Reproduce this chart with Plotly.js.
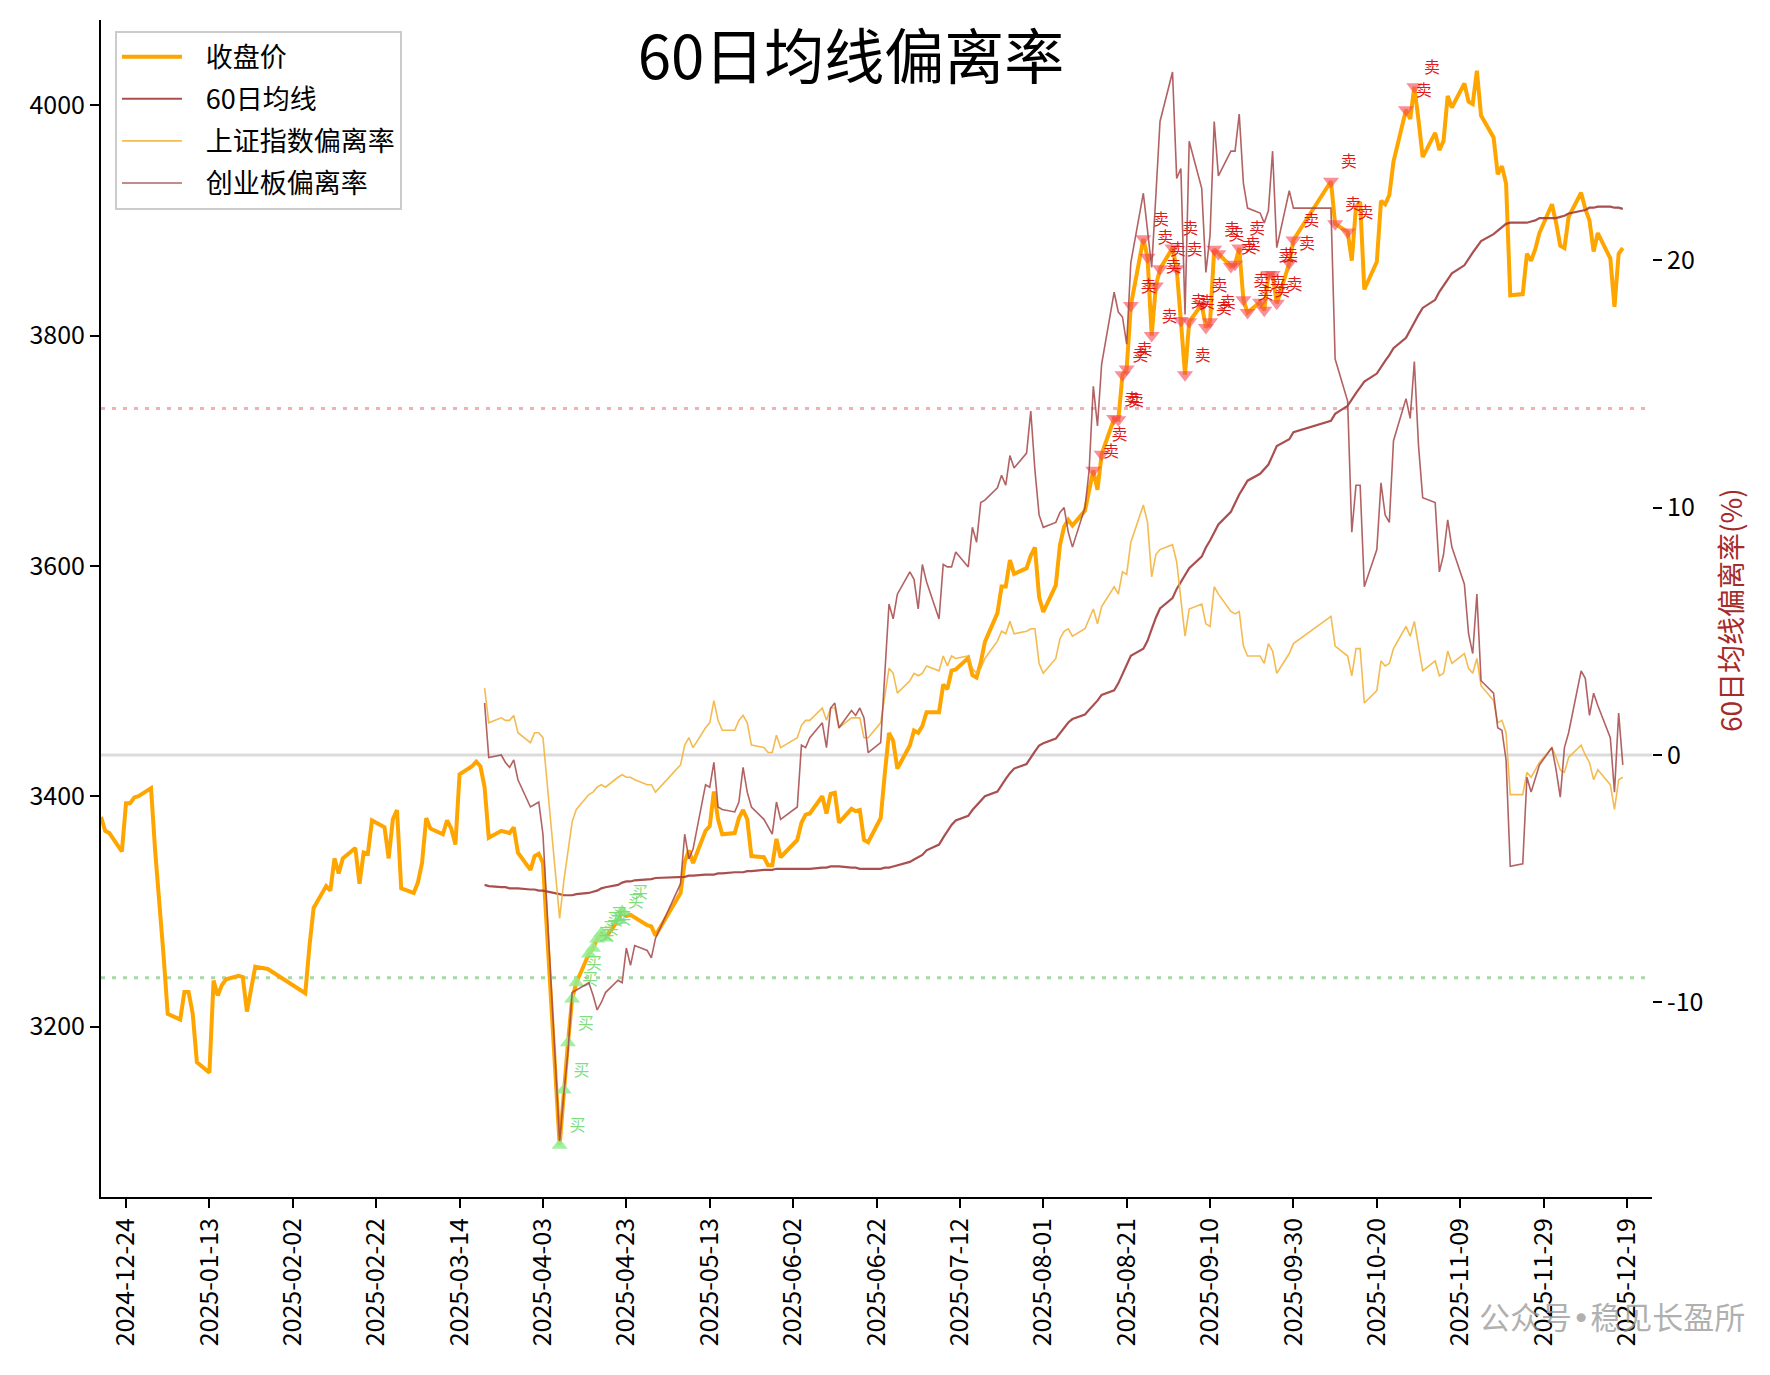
<!DOCTYPE html>
<html>
<head>
<meta charset="utf-8">
<script src="https://cdn.plot.ly/plotly-3.0.1.min.js"></script>
<style>html,body{margin:0;padding:0;background:#fff;}#chart{width:1770px;height:1375px;}</style>
</head>
<body>
<div id="chart"></div>
<script>
// ---- trading dates (2024-12-18 .. 2025-12-18) ----
const dates = [
'2024-12-18','2024-12-19','2024-12-20','2024-12-23','2024-12-24','2024-12-25','2024-12-26','2024-12-27','2024-12-30','2024-12-31',
'2025-01-02','2025-01-03','2025-01-06','2025-01-07','2025-01-08','2025-01-09','2025-01-10','2025-01-13','2025-01-14','2025-01-15','2025-01-16','2025-01-17','2025-01-20','2025-01-21','2025-01-22','2025-01-23','2025-01-24','2025-01-27',
'2025-02-05','2025-02-06','2025-02-07','2025-02-10','2025-02-11','2025-02-12','2025-02-13','2025-02-14','2025-02-17','2025-02-18','2025-02-19','2025-02-20','2025-02-21','2025-02-24','2025-02-25','2025-02-26','2025-02-27','2025-02-28',
'2025-03-03','2025-03-04','2025-03-05','2025-03-06','2025-03-07','2025-03-10','2025-03-11','2025-03-12','2025-03-13','2025-03-14','2025-03-17','2025-03-18','2025-03-19','2025-03-20','2025-03-21','2025-03-24','2025-03-25','2025-03-26','2025-03-27','2025-03-28','2025-03-31',
'2025-04-01','2025-04-02','2025-04-03','2025-04-07','2025-04-08','2025-04-09','2025-04-10','2025-04-11','2025-04-14','2025-04-15','2025-04-16','2025-04-17','2025-04-18','2025-04-21','2025-04-22','2025-04-23','2025-04-24','2025-04-25','2025-04-28','2025-04-29','2025-04-30',
'2025-05-06','2025-05-07','2025-05-08','2025-05-09','2025-05-12','2025-05-13','2025-05-14','2025-05-15','2025-05-16','2025-05-19','2025-05-20','2025-05-21','2025-05-22','2025-05-23','2025-05-26','2025-05-27','2025-05-28','2025-05-29','2025-05-30',
'2025-06-03','2025-06-04','2025-06-05','2025-06-06','2025-06-09','2025-06-10','2025-06-11','2025-06-12','2025-06-13','2025-06-16','2025-06-17','2025-06-18','2025-06-19','2025-06-20','2025-06-23','2025-06-24','2025-06-25','2025-06-26','2025-06-27','2025-06-30',
'2025-07-01','2025-07-02','2025-07-03','2025-07-04','2025-07-07','2025-07-08','2025-07-09','2025-07-10','2025-07-11','2025-07-14','2025-07-15','2025-07-16','2025-07-17','2025-07-18','2025-07-21','2025-07-22','2025-07-23','2025-07-24','2025-07-25','2025-07-28','2025-07-29','2025-07-30','2025-07-31',
'2025-08-01','2025-08-04','2025-08-05','2025-08-06','2025-08-07','2025-08-08','2025-08-11','2025-08-12','2025-08-13','2025-08-14','2025-08-15','2025-08-18','2025-08-19','2025-08-20','2025-08-21','2025-08-22','2025-08-25','2025-08-26','2025-08-27','2025-08-28','2025-08-29',
'2025-09-01','2025-09-02','2025-09-03','2025-09-04','2025-09-05','2025-09-08','2025-09-09','2025-09-10','2025-09-11','2025-09-12','2025-09-15','2025-09-16','2025-09-17','2025-09-18','2025-09-19','2025-09-22','2025-09-23','2025-09-24','2025-09-25','2025-09-26','2025-09-29','2025-09-30',
'2025-10-09','2025-10-10','2025-10-13','2025-10-14','2025-10-15','2025-10-16','2025-10-17','2025-10-20','2025-10-21','2025-10-22','2025-10-23','2025-10-24','2025-10-27','2025-10-28','2025-10-29','2025-10-30','2025-10-31',
'2025-11-03','2025-11-04','2025-11-05','2025-11-06','2025-11-07','2025-11-10','2025-11-11','2025-11-12','2025-11-13','2025-11-14','2025-11-17','2025-11-18','2025-11-19','2025-11-20','2025-11-21','2025-11-24','2025-11-25','2025-11-26','2025-11-27','2025-11-28',
'2025-12-01','2025-12-02','2025-12-03','2025-12-04','2025-12-05','2025-12-08','2025-12-09','2025-12-10','2025-12-11','2025-12-12','2025-12-15','2025-12-16','2025-12-17','2025-12-18'
];

// 收盘价 (上证指数)
const closePrice = [
3382,3370,3368,3352,3394,3394,3399,3400,3407,3352,
3262,3211,3206,3230,3230,3211,3169,3160,3240,3227,3236,3241,3244,3243,3213,3231,3252,3250,
3229,3270,3303,3322,3318,3346,3333,3346,3355,3324,3351,3350,3379,3373,3346,3380,3388,3320,
3316,3325,3342,3381,3372,3367,3379,3372,3358,3419,3426,3430,3426,3408,3364,3370,3369,3368,3373,3351,3336,
3348,3350,3342,3097,3145,3186,3224,3238,3263,3268,3276,3281,3277,3292,3300,3296,3297,3295,3288,3287,3279,
3316,3343,3353,3342,3370,3374,3404,3380,3367,3368,3381,3388,3380,3348,3347,3340,3340,3363,3347,
3362,3377,3384,3385,3400,3385,3402,3403,3377,3389,3387,3388,3362,3360,3381,3420,3455,3448,3424,3444,
3457,3455,3461,3473,3473,3497,3493,3509,3510,3520,3505,3503,3516,3534,3559,3582,3582,3605,3593,3598,3609,3616,3573,
3560,3583,3618,3634,3640,3635,3648,3665,3683,3666,3697,3728,3727,3766,3771,3826,3884,3868,3800,3843,3858,
3876,3858,3813,3766,3812,3827,3807,3812,3875,3871,3860,3862,3876,3831,3820,3829,3822,3853,3853,3828,3863,3883,
3934,3897,3890,3865,3912,3916,3840,3864,3917,3914,3922,3951,3996,3988,4016,3987,3955,
3976,3961,3969,4008,3998,4019,4003,4001,4030,3991,3972,3940,3947,3932,3835,3836,3871,3865,3875,3889,
3914,3898,3878,3876,3903,3924,3910,3900,3873,3889,3867,3825,3871,3876
];

// first date with a 60-day average
const firstMaDate = '2025-03-20';

// 60日均线 (from 2025-03-20)
const ma60 = [
3323,3322,3321,3321,3320,3320,3320,3319,
3319,3318,3318,3315,3314,3314,3314,3315,3316,3317,3318,3320,3321,3323,3325,3326,3326,3327,3328,3328,3329,
3330,3330,3331,3331,3332,3332,3332,3333,3333,3334,3334,3334,3335,3335,3336,3336,3336,3337,3337,
3337,3337,3337,3337,3338,3338,3339,3339,3339,3338,3338,3337,3337,3337,3337,3338,3338,3339,3340,3343,
3345,3347,3349,3353,3358,3364,3370,3375,3379,3383,3388,3392,3396,3400,3404,3410,3415,3420,3424,3428,3434,3439,3444,
3446,3450,3455,3460,3464,3467,3471,3475,3479,3483,3488,3492,3498,3506,3514,3522,3528,3535,3545,3555,3563,
3572,3580,3586,3592,3598,3608,3616,3622,3629,3636,3647,3655,3662,3668,3674,3680,3684,3688,3696,3704,3710,3716,
3726,3732,3739,3745,3750,3755,3760,3767,3773,3778,3783,3789,3798,3805,3812,3818,3824,
3831,3838,3843,3848,3854,3861,3867,3872,3877,3882,3888,3891,3894,3897,3898,3898,3898,3899,3900,3902,
3902,3902,3903,3904,3906,3908,3909,3911,3911,3912,3912,3911,3911,3910
];

// 上证指数偏离率 (%)
const sseDev = [
2.7,1.3,1.5,1.4,1.4,1.6,0.9,0.5,
0.9,0.9,0.7,-6.6,-5.1,-3.9,-2.7,-2.2,-1.6,-1.5,-1.3,-1.2,-1.3,-0.9,-0.8,-0.9,-0.9,-1.0,-1.2,-1.2,-1.5,
-0.4,0.4,0.7,0.3,1.1,1.3,2.2,1.4,1.0,1.0,1.4,1.6,1.3,0.4,0.3,0.1,0.1,0.8,0.3,
0.7,1.2,1.4,1.4,1.9,1.4,1.9,1.9,1.1,1.5,1.5,1.5,0.7,0.7,1.3,2.5,3.5,3.3,2.5,3.0,
3.3,3.2,3.3,3.6,3.4,4.0,3.6,4.0,3.9,4.0,3.5,3.3,3.5,3.9,4.6,5.0,4.9,5.4,4.9,5.0,5.1,5.1,3.7,
3.3,3.9,4.7,5.0,5.1,4.8,5.1,5.5,5.9,5.3,6.0,6.8,6.5,7.4,7.3,8.6,10.1,9.4,7.2,8.1,8.3,
8.5,7.8,6.3,4.8,5.9,6.1,5.3,5.2,6.8,6.5,5.8,5.7,5.8,4.4,4.0,4.0,3.7,4.5,4.2,3.3,4.1,4.5,
5.6,4.4,4.0,3.2,4.3,4.3,2.1,2.6,3.8,3.6,3.7,4.3,5.2,4.8,5.4,4.4,3.4,
3.8,3.2,3.3,4.2,3.7,4.1,3.5,3.3,3.9,2.8,2.2,1.3,1.4,0.9,-1.6,-1.6,-0.7,-0.9,-0.6,-0.3,
0.3,-0.1,-0.6,-0.7,-0.1,0.4,0.0,-0.3,-1.0,-0.6,-1.2,-2.2,-1.0,-0.9
];

// 创业板偏离率 (%)
const cybDev = [
2.1,-0.1,0.0,-0.3,-0.5,-0.2,-1.0,-2.1,
-2.0,-1.9,-3.2,-15.6,-13.7,-12.0,-9.6,-9.5,-9.2,-9.7,-10.3,-10.0,-9.6,-9.1,-9.2,-7.8,-8.5,-7.7,-7.9,-8.2,-7.4,
-5.2,-3.2,-4.2,-3.8,-1.2,-1.3,-0.3,-2.1,-2.2,-2.3,-1.9,-0.5,-1.5,-2.1,-2.6,-2.9,-3.2,-1.9,-2.6,
-2.1,0.4,0.3,0.7,1.3,0.3,1.9,2.1,1.1,1.8,1.6,1.9,1.5,0.1,0.5,3.3,6.1,5.5,6.5,7.4,
7.1,5.9,7.7,7.0,5.5,7.7,7.6,7.6,8.2,7.6,9.2,8.6,10.2,10.3,10.8,11.3,10.9,12.1,11.6,12.2,13.9,11.5,9.7,
9.2,9.4,9.8,10.0,9.0,8.4,10.0,11.5,14.9,13.3,15.8,18.7,17.9,17.7,16.6,19.9,22.7,21.3,19.7,22.6,25.6,
27.6,23.3,23.7,17.8,24.8,22.9,19.5,21.0,25.6,23.4,24.4,24.4,25.9,23.1,22.1,21.9,21.5,22.0,24.4,20.5,22.8,22.1,
22.1,16.0,14.3,9.0,10.9,10.9,6.8,8.3,11.0,9.7,9.4,12.7,14.4,13.6,15.9,12.5,10.4,
10.2,7.4,8.1,9.5,8.4,6.9,4.9,4.1,6.5,3.0,2.5,1.1,1.0,-0.2,-4.5,-4.4,-0.9,-1.5,-0.9,-0.4,
0.3,-0.6,-1.7,0.3,0.9,3.4,3.1,1.6,2.5,2.0,0.7,-1.5,1.7,-0.4
];

// 卖出信号 / 买入信号 dates
const sellDates = [
'2025-08-13','2025-08-15','2025-08-18','2025-08-19','2025-08-20','2025-08-21','2025-08-22','2025-08-25','2025-08-26','2025-08-27','2025-08-28','2025-08-29',
'2025-09-01','2025-09-02','2025-09-03','2025-09-04','2025-09-05','2025-09-08','2025-09-09','2025-09-10','2025-09-11','2025-09-12','2025-09-15','2025-09-16','2025-09-17','2025-09-18','2025-09-19','2025-09-22','2025-09-23','2025-09-24','2025-09-25','2025-09-26','2025-09-29','2025-09-30',
'2025-10-09','2025-10-10','2025-10-13','2025-10-27','2025-10-29'
];
const buyDates = [
'2025-04-07','2025-04-08','2025-04-09','2025-04-10','2025-04-11','2025-04-14','2025-04-15','2025-04-16','2025-04-17','2025-04-18','2025-04-21','2025-04-22'
];

// thresholds (right axis, %)
const upperThreshold = 14;
const lowerThreshold = -9;
const zeroLevel = 0;

// axis ticks
const xTicks = ['2024-12-24','2025-01-13','2025-02-02','2025-02-22','2025-03-14','2025-04-03','2025-04-23','2025-05-13','2025-06-02','2025-06-22','2025-07-12','2025-08-01','2025-08-21','2025-09-10','2025-09-30','2025-10-20','2025-11-09','2025-11-29','2025-12-19'];
const leftTicks = [3200,3400,3600,3800,4000];
const rightTicks = [-10,0,10,20];
const rightTickText = ['-10','0','10','20'];

// ---- build ----
const FONT = '"Noto Sans CJK SC", "Noto Sans", sans-serif';
const GAP = '\u2002\u2009'; // spacing between legend sample and label
const maStart = dates.indexOf(firstMaDate);
const maDates = dates.slice(maStart);
const priceOn = d => closePrice[dates.indexOf(d)];

const traces = [
  {x: dates, y: closePrice, type:'scatter', mode:'lines', name:GAP+'收盘价', legendgroup:'g1',
   line:{color:'#FFA500', width:4}, xaxis:'x', yaxis:'y'},
  {x: maDates, y: ma60, type:'scatter', mode:'lines', name:GAP+'60日均线', legendgroup:'g2',
   line:{color:'rgba(160,60,60,0.9)', width:2.2}, xaxis:'x', yaxis:'y'},
  {x: sellDates, y: sellDates.map(priceOn), type:'scatter', mode:'markers+text', showlegend:false,
   text: sellDates.map(()=> '卖'), textposition:'top right',
   textfont:{family:FONT, size:16, color:'rgba(225,10,10,0.95)'},
   marker:{symbol:'triangle-down', size:14, color:'rgba(245,70,85,0.6)'}, xaxis:'x', yaxis:'y', cliponaxis:false},
  {x: buyDates, y: buyDates.map(priceOn), type:'scatter', mode:'markers+text', showlegend:false,
   text: buyDates.map(()=> '买'), textposition:'top right',
   textfont:{family:FONT, size:16, color:'rgba(120,220,120,0.95)'},
   marker:{symbol:'triangle-up', size:14, color:'rgba(144,238,144,0.85)'}, xaxis:'x', yaxis:'y', cliponaxis:false},
  {x: maDates, y: sseDev, type:'scatter', mode:'lines', name:GAP+'上证指数偏离率', legendgroup:'g3',
   line:{color:'rgba(242,175,50,0.85)', width:1.6}, xaxis:'x', yaxis:'y2'},
  {x: maDates, y: cybDev, type:'scatter', mode:'lines', name:GAP+'创业板偏离率', legendgroup:'g4',
   line:{color:'rgba(165,70,72,0.85)', width:1.6}, xaxis:'x', yaxis:'y2'}
];

const hline = (v, color, width, dash) => ({type:'line', xref:'paper', x0:0, x1:1, yref:'y2', y0:v, y1:v,
  layer:'below', line:{color:color, width:width, dash:dash}});

const layout = {
  width:1770, height:1375,
  margin:{l:101, r:118, t:20, b:178},
  paper_bgcolor:'#ffffff', plot_bgcolor:'#ffffff',
  font:{family:FONT, size:25, color:'#000000'},
  title:{text:'60日均线偏离率', font:{family:FONT, size:60, color:'#000000'},
         xref:'container', x:851/1770, xanchor:'center', yref:'container', y:1-58/1375, yanchor:'middle'},
  showlegend:true,
  legend:{x:0.009, y:0.991, xanchor:'left', yanchor:'top', traceorder:'grouped', tracegroupgap:4,
          itemwidth:60,
          bgcolor:'rgba(255,255,255,0.9)', bordercolor:'#cccccc', borderwidth:2,
          font:{family:FONT, size:27, color:'#000000'}},
  xaxis:{type:'date', range:['2024-12-18','2025-12-25'], tickvals:xTicks, ticktext:xTicks, tickangle:-90,
         ticks:'outside', ticklen:9, tickwidth:2, tickcolor:'#000', showline:true, linewidth:2, linecolor:'#000',
         showgrid:false, zeroline:false, tickfont:{family:FONT, size:25, color:'#000'}},
  yaxis:{range:[3052,4074], tickvals:leftTicks, ticktext:leftTicks.map(String),
         ticks:'outside', ticklen:9, tickwidth:2, tickcolor:'#000', showline:true, linewidth:2, linecolor:'#000',
         showgrid:false, zeroline:false, tickfont:{family:FONT, size:25, color:'#000'}},
  yaxis2:{overlaying:'y', side:'right', anchor:'x', range:[-17.86,29.7], tickvals:rightTicks, ticktext:rightTickText,
          ticks:'outside', ticklen:9, tickwidth:2, tickcolor:'#000', showline:false,
          showgrid:false, zeroline:false, tickfont:{family:FONT, size:25, color:'#000'}},
  shapes:[
    hline(zeroLevel, '#dcdcdc', 3, 'solid'),
    hline(upperThreshold, 'rgba(240,150,150,0.75)', 3, '4px,7px'),
    hline(lowerThreshold, 'rgba(150,210,150,0.85)', 3, '4px,7px')
  ],
  annotations:[
    {text:'60日均线偏离率(%)', xref:'paper', yref:'paper', x:(1730-101)/1551, y:1-(610-20)/1177,
     xanchor:'center', yanchor:'middle', textangle:-90, showarrow:false,
     font:{family:FONT, size:28, color:'#a52a2a'}},
    {text:'公众号<span style="font-family:DejaVu Sans">•</span>稳见长盈所', xref:'paper', yref:'paper', x:(1612-101)/1551, y:1-(1315-20)/1177,
     xanchor:'center', yanchor:'middle', showarrow:false,
     font:{family:FONT, size:31, color:'rgba(150,150,150,0.75)'}}
  ]
};

Plotly.newPlot('chart', traces, layout, {displayModeBar:false, staticPlot:true});
</script>
</body>
</html>
